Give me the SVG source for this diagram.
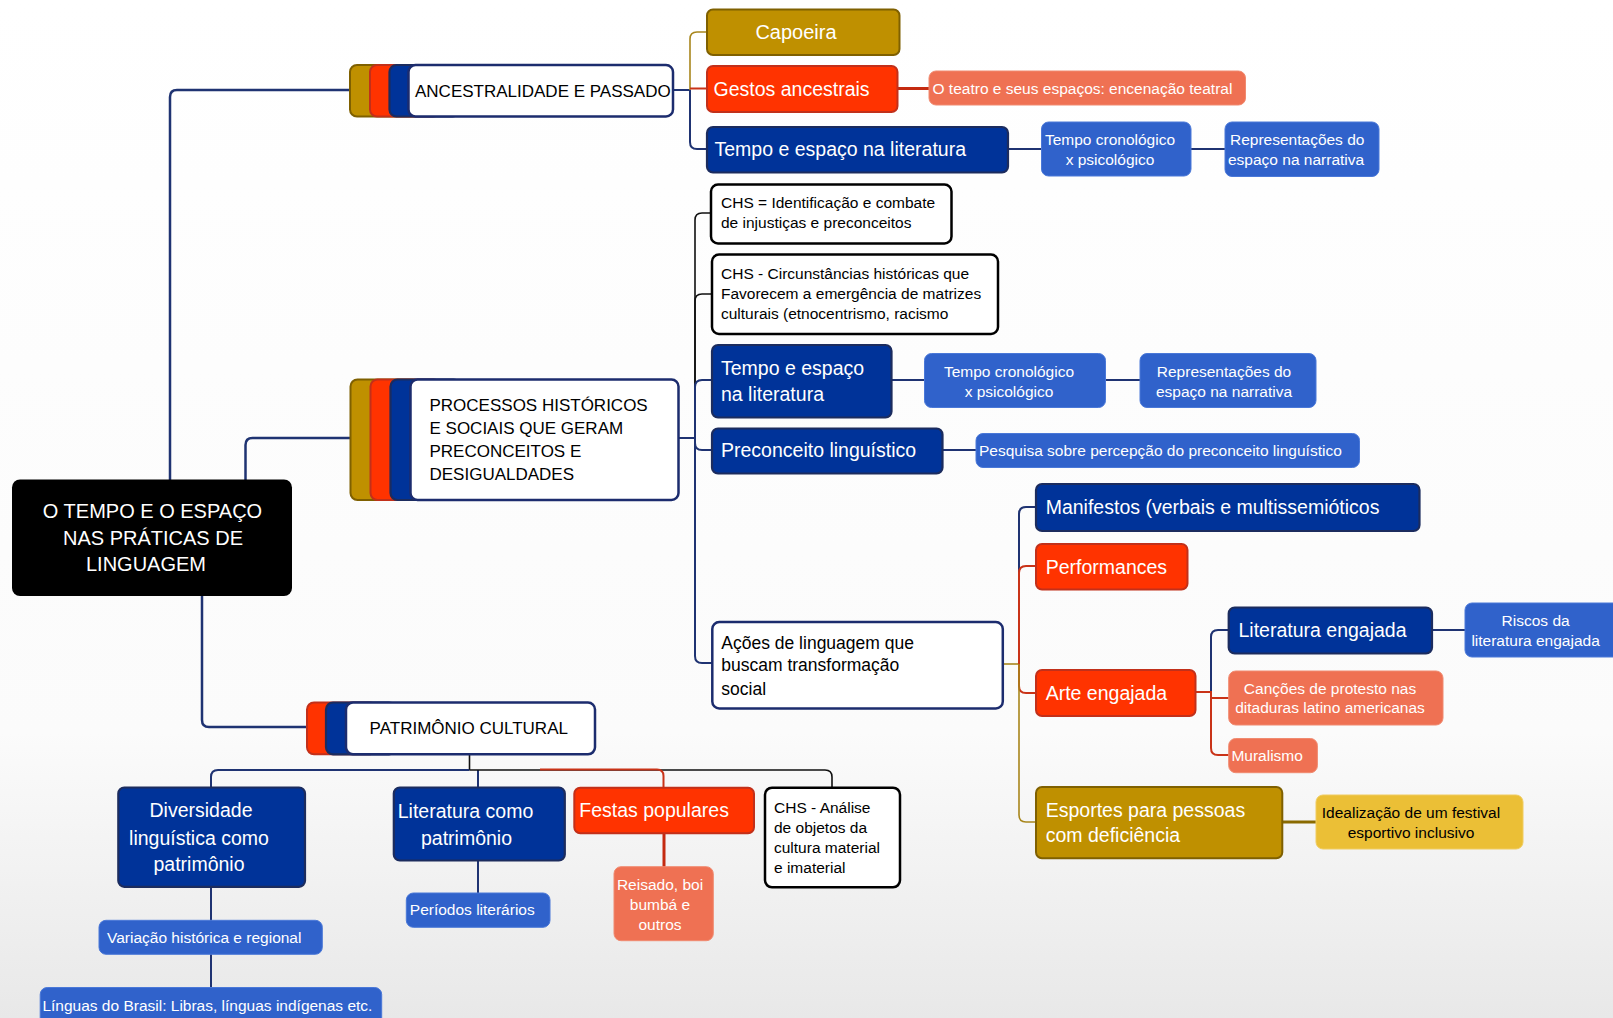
<svg xmlns="http://www.w3.org/2000/svg" width="1613" height="1018" viewBox="0 0 1613 1018">
<defs>
<linearGradient id="bg" x1="0" y1="0" x2="0" y2="1">
<stop offset="0" stop-color="#ffffff"/>
<stop offset="0.72" stop-color="#fbfbfb"/>
<stop offset="1" stop-color="#e8e8e8"/>
</linearGradient>
<style>
text{font-family:"Liberation Sans",Arial,sans-serif;}
.navy{fill:#003399;stroke:#1c2c5e;stroke-width:2.2;}
.red{fill:#ff3300;stroke:#c2301a;stroke-width:2;}
.gold{fill:#bf9000;stroke:#7f6000;stroke-width:2;}
.mblue{fill:#3062cb;stroke:#4a78d8;stroke-width:1;}
.salmon{fill:#ef7153;stroke:#f08a70;stroke-width:1;}
.yellow{fill:#ebbf36;stroke:#f0cc60;stroke-width:1;}
.wblack{fill:#ffffff;stroke:#000000;stroke-width:2.5;}
.wnavy{fill:#ffffff;stroke:#1c2c6e;stroke-width:2.5;}
.root{fill:#000000;}
.t-root{fill:#ffffff;font-size:20px;text-anchor:middle;}
.t-l1{fill:#000000;font-size:17px;}
.t-big{fill:#ffffff;font-size:19.5px;}
.t-sm{fill:#ffffff;font-size:15.5px;}
.t-smk{fill:#000000;font-size:15.5px;}
.t-chs{fill:#000000;font-size:15.5px;}
.mid{text-anchor:middle;}
.c-navy{fill:none;stroke:#1f3372;stroke-width:2;}
.c-navy2{fill:none;stroke:#1f3372;stroke-width:2.5;}
.c-black{fill:none;stroke:#111111;stroke-width:1.6;}
.c-red{fill:none;stroke:#c93318;stroke-width:2;}
.c-red3{fill:none;stroke:#c42a10;stroke-width:3;}
.c-gold{fill:none;stroke:#a8861c;stroke-width:1.6;}
.c-gold3{fill:none;stroke:#8a6a00;stroke-width:3;}
</style>
</defs>
<rect x="0" y="0" width="1613" height="1018" fill="url(#bg)"/>

<g id="connectors">
<path class="c-navy2" d="M170,480 V97 Q170,90 177,90 H350"/>
<path class="c-navy2" d="M245.5,480 V445 Q245.5,438 252.5,438 H351"/>
<path class="c-navy2" d="M202,596 V720 Q202,727 209,727 H307"/>
<path class="c-navy" d="M673,90 H690"/>
<path class="c-gold" d="M690,90 V39 Q690,32 697,32 H707"/>
<path class="c-red" d="M690,88.5 H707"/>
<path class="c-navy" d="M690,90 V142 Q690,149 697,149 H707"/>
<path class="c-red3" d="M897,88.5 H929"/>
<path class="c-navy" d="M1008,149 H1042"/>
<path class="c-navy" d="M1191,149 H1225"/>
<path class="c-navy" d="M679,438 H695"/>
<path class="c-black" d="M695,438 V220 Q695,213 702,213 H711"/>
<path class="c-black" d="M695,438 V301 Q695,294 702,294 H712"/>
<path class="c-navy" d="M695,438 V387 Q695,380 702,380 H712"/>
<path class="c-navy" d="M695,438 V443 Q695,450 702,450 H712"/>
<path class="c-navy" d="M695,438 V656 Q695,663 702,663 H712"/>
<path class="c-navy" d="M892,380 H925"/>
<path class="c-navy" d="M1105,380 H1140"/>
<path class="c-navy" d="M942,450 H976"/>
<path class="c-gold" d="M1003,664 H1019"/>
<path class="c-navy" d="M1019,664 V514 Q1019,507 1026,507 H1036"/>
<path class="c-red" d="M1019,664 V573 Q1019,566 1026,566 H1036"/>
<path class="c-red" d="M1019,664 V686 Q1019,693 1026,693 H1036"/>
<path class="c-gold" d="M1019,664 V815 Q1019,822 1026,822 H1036"/>
<path class="c-gold3" d="M1282,822 H1316"/>
<path class="c-navy" d="M1211,692 V637 Q1211,630 1218,630 H1229"/>
<path class="c-red" d="M1196,692 H1211 V698 H1229"/>
<path class="c-red" d="M1211,698 V748 Q1211,755 1218,755 H1229"/>
<path class="c-navy" d="M1432,630 H1465"/>
<path class="c-black" d="M469.5,754 V770"/>
<path class="c-navy" d="M469.5,770 H218 Q211,770 211,777 V788"/>
<path class="c-navy" d="M478,770 V788"/>
<path class="c-black" d="M469.5,770 H825 Q832,770 832,777 V788"/>
<path class="c-red" d="M540,769.5 H657 Q663.5,769.5 663.5,776 V788"/>
<path class="c-navy" d="M211,887 V921"/>
<path class="c-navy" d="M211,954 V988"/>
<path class="c-navy" d="M478,861 V893"/>
<path class="c-red3" d="M664,833 V867"/>
</g>

<g id="root">
<rect class="root" x="12" y="479.5" width="280" height="116.5" rx="8"/>
<text class="t-root" x="152.5" y="518">O TEMPO E O ESPAÇO</text>
<text class="t-root" x="153" y="544.5">NAS PRÁTICAS DE</text>
<text class="t-root" x="146" y="571">LINGUAGEM</text>
</g>

<g id="ancestralidade">
<rect class="gold" x="350" y="65" width="70" height="51.5" rx="7"/>
<rect class="red" x="370" y="65" width="70" height="51.5" rx="7"/>
<rect class="navy" x="389.5" y="65" width="70" height="51.5" rx="7"/>
<rect class="wnavy" x="408.5" y="65" width="264.5" height="51.5" rx="7"/>
<text class="t-l1" x="415" y="97">ANCESTRALIDADE E PASSADO</text>
</g>

<g id="capoeira">
<rect class="gold" x="707" y="9.5" width="192.5" height="45.5" rx="6"/>
<text class="t-big mid" x="796" y="39" style="font-size:20px">Capoeira</text>
</g>
<g id="gestos">
<rect class="red" x="707" y="66" width="190.5" height="46" rx="6"/>
<text class="t-big" x="713.5" y="95.5">Gestos ancestrais</text>
</g>
<g id="teatro">
<rect class="salmon" x="929" y="71" width="316.5" height="34" rx="7"/>
<text class="t-sm" x="932.5" y="93.8">O teatro e seus espaços: encenação teatral</text>
</g>
<g id="tempo1">
<rect class="navy" x="707" y="127" width="301" height="45.5" rx="6"/>
<text class="t-big" x="714.5" y="156.3">Tempo e espaço na literatura</text>
</g>
<g id="cron1">
<rect class="mblue" x="1041.5" y="122" width="149.5" height="54" rx="7"/>
<text class="t-sm mid" x="1110" y="144.5">Tempo cronológico</text>
<text class="t-sm mid" x="1110" y="164.5">x psicológico</text>
</g>
<g id="repr1">
<rect class="mblue" x="1225" y="122" width="154" height="54.5" rx="7"/>
<text class="t-sm" x="1230" y="144.8">Representações do</text>
<text class="t-sm" x="1228" y="164.8">espaço na narrativa</text>
</g>

<g id="processos">
<rect class="gold" x="350.5" y="379.5" width="70" height="120.5" rx="7"/>
<rect class="red" x="370.5" y="379.5" width="70" height="120.5" rx="7"/>
<rect class="navy" x="390.5" y="379.5" width="70" height="120.5" rx="7"/>
<rect class="wnavy" x="410.5" y="379.5" width="268" height="120.5" rx="7"/>
<text class="t-l1" x="429.5" y="411">PROCESSOS HISTÓRICOS</text>
<text class="t-l1" x="429.5" y="434">E SOCIAIS QUE GERAM</text>
<text class="t-l1" x="429.5" y="457">PRECONCEITOS E</text>
<text class="t-l1" x="429.5" y="479.5">DESIGUALDADES</text>
</g>
<g id="chs1">
<rect class="wblack" x="711" y="184.5" width="240.5" height="59" rx="7"/>
<text class="t-chs" x="721" y="208.2">CHS = Identificação e combate</text>
<text class="t-chs" x="721" y="228.2">de injustiças e preconceitos</text>
</g>
<g id="chs2">
<rect class="wblack" x="712" y="254.5" width="286" height="79.5" rx="7"/>
<text class="t-chs" x="721" y="279.4">CHS - Circunstâncias históricas que</text>
<text class="t-chs" x="721" y="299.4">Favorecem a emergência de matrizes</text>
<text class="t-chs" x="721" y="319.4">culturais (etnocentrismo, racismo</text>
</g>
<g id="tempo2">
<rect class="navy" x="712" y="345" width="179.5" height="72.5" rx="6"/>
<text class="t-big" x="721" y="374.7">Tempo e espaço</text>
<text class="t-big" x="721" y="401.3">na literatura</text>
</g>
<g id="cron2">
<rect class="mblue" x="924.5" y="353.5" width="181" height="54" rx="7"/>
<text class="t-sm mid" x="1009" y="376.5">Tempo cronológico</text>
<text class="t-sm mid" x="1009" y="396.5">x psicológico</text>
</g>
<g id="repr2">
<rect class="mblue" x="1140" y="353.5" width="176" height="54" rx="7"/>
<text class="t-sm mid" x="1224" y="376.5">Representações do</text>
<text class="t-sm mid" x="1224" y="396.5">espaço na narrativa</text>
</g>
<g id="preconceito">
<rect class="navy" x="712" y="428.5" width="230.5" height="45" rx="6"/>
<text class="t-big" x="721" y="457">Preconceito linguístico</text>
</g>
<g id="pesquisa">
<rect class="mblue" x="976" y="433.5" width="383.5" height="34" rx="7"/>
<text class="t-sm" x="979" y="455.5">Pesquisa sobre percepção do preconceito linguístico</text>
</g>
<g id="acoes">
<rect class="wnavy" x="712.3" y="622" width="290.5" height="86.5" rx="7"/>
<text class="t-smk" x="721.3" y="648.5" style="font-size:17.5px">Ações de linguagem que</text>
<text class="t-smk" x="721.3" y="671.2" style="font-size:17.5px">buscam transformação</text>
<text class="t-smk" x="721.3" y="694.5" style="font-size:17.5px">social</text>
</g>
<g id="manifestos">
<rect class="navy" x="1036" y="484" width="383.5" height="47" rx="6"/>
<text class="t-big" x="1045.7" y="514.3">Manifestos (verbais e multissemióticos</text>
</g>
<g id="performances">
<rect class="red" x="1036" y="544" width="151.5" height="45.5" rx="6"/>
<text class="t-big" x="1045.7" y="573.7">Performances</text>
</g>
<g id="arte">
<rect class="red" x="1036" y="670" width="159.5" height="46" rx="6"/>
<text class="t-big" x="1045.7" y="700.3">Arte engajada</text>
</g>
<g id="literatura-engajada">
<rect class="navy" x="1228.7" y="607.5" width="203.3" height="46" rx="6"/>
<text class="t-big" x="1238.5" y="637">Literatura engajada</text>
</g>
<g id="riscos">
<rect class="mblue" x="1465" y="603" width="160" height="54" rx="7"/>
<text class="t-sm mid" x="1535.6" y="625.5">Riscos da</text>
<text class="t-sm mid" x="1535.6" y="645.5">literatura engajada</text>
</g>
<g id="cancoes">
<rect class="salmon" x="1228.7" y="671" width="214.3" height="54" rx="7"/>
<text class="t-sm mid" x="1330" y="693.8">Canções de protesto nas</text>
<text class="t-sm mid" x="1330" y="713.3">ditaduras latino americanas</text>
</g>
<g id="muralismo">
<rect class="salmon" x="1228.7" y="738.5" width="88.7" height="34.2" rx="7"/>
<text class="t-sm" x="1231.4" y="761.2">Muralismo</text>
</g>
<g id="esportes">
<rect class="gold" x="1036" y="787" width="246.3" height="71.3" rx="6"/>
<text class="t-big" x="1045.7" y="817">Esportes para pessoas</text>
<text class="t-big" x="1045.7" y="842">com deficiência</text>
</g>
<g id="idealizacao">
<rect class="yellow" x="1316" y="795" width="207" height="54" rx="7"/>
<text class="t-smk mid" x="1411" y="817.8">Idealização de um festival</text>
<text class="t-smk mid" x="1411" y="837.8">esportivo inclusivo</text>
</g>

<g id="patrimonio">
<rect class="red" x="307" y="702.5" width="70" height="51.8" rx="7"/>
<rect class="navy" x="326" y="702.5" width="70" height="51.8" rx="7"/>
<rect class="wnavy" x="346" y="702.5" width="249" height="51.8" rx="7"/>
<text class="t-l1" x="369.6" y="734">PATRIMÔNIO CULTURAL</text>
</g>
<g id="diversidade">
<rect class="navy" x="118.3" y="787.5" width="186.7" height="99.3" rx="6"/>
<text class="t-big mid" x="201" y="817.2">Diversidade</text>
<text class="t-big mid" x="199" y="844.6">linguística como</text>
<text class="t-big mid" x="199" y="871">patrimônio</text>
</g>
<g id="variacao">
<rect class="mblue" x="99" y="920.3" width="223.3" height="34" rx="7"/>
<text class="t-sm" x="107" y="943">Variação histórica e regional</text>
</g>
<g id="linguas">
<rect class="mblue" x="40.2" y="987.5" width="341.5" height="42" rx="7"/>
<text class="t-sm" x="42.4" y="1010.5">Línguas do Brasil: Libras, línguas indígenas etc.</text>
</g>
<g id="literatura-patrimonio">
<rect class="navy" x="393.8" y="787.5" width="171" height="73" rx="6"/>
<text class="t-big mid" x="465.5" y="818">Literatura como</text>
<text class="t-big mid" x="466.5" y="844.8">patrimônio</text>
</g>
<g id="periodos">
<rect class="mblue" x="406.3" y="893" width="143.7" height="34.3" rx="7"/>
<text class="t-sm" x="409.8" y="915.4">Períodos literários</text>
</g>
<g id="festas">
<rect class="red" x="574.3" y="787.7" width="179.7" height="45.6" rx="6"/>
<text class="t-big" x="579.3" y="817">Festas populares</text>
</g>
<g id="reisado">
<rect class="salmon" x="614" y="866.7" width="99.3" height="74" rx="7"/>
<text class="t-sm mid" x="660" y="889.5">Reisado, boi</text>
<text class="t-sm mid" x="660" y="909.5">bumbá e</text>
<text class="t-sm mid" x="660" y="929.5">outros</text>
</g>
<g id="chs-analise">
<rect class="wblack" x="765" y="787.7" width="135" height="99.6" rx="7"/>
<text class="t-smk" x="774" y="812.8">CHS - Análise</text>
<text class="t-smk" x="774" y="832.8">de objetos da</text>
<text class="t-smk" x="774" y="852.8">cultura material</text>
<text class="t-smk" x="774" y="872.8">e imaterial</text>
</g>
</svg>
